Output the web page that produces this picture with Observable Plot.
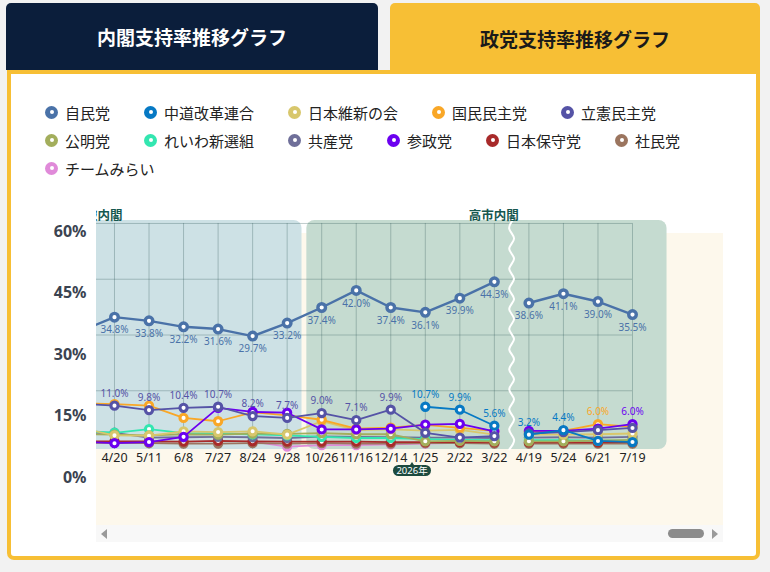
<!DOCTYPE html>
<html><head><meta charset="utf-8">
<script src="https://cdn.jsdelivr.net/npm/d3@7"></script>
<script src="https://cdn.jsdelivr.net/npm/@observablehq/plot@0.6"></script>
<style>
body{margin:0;width:770px;height:572px;background:#f2f2f2;position:relative;overflow:hidden;font-family:"Noto Sans CJK JP","Noto Sans",sans-serif;}
.tab{position:absolute;top:3px;display:flex;align-items:center;justify-content:center;font-weight:700;font-size:19px;border-radius:5px 5px 0 0;}
#tabL{left:6px;width:372px;height:67px;background:#0b1e3b;color:#fff;}
#tabR{left:390px;width:370px;height:70px;background:#f7bf35;color:#1a1a1a;}
#card{position:absolute;left:7px;top:70px;width:745px;height:482px;border:4px solid #f7bf35;background:#fff;border-radius:0 0 7px 7px;}
#legend{position:absolute;left:45px;top:98px;width:700px;display:flex;flex-wrap:wrap;column-gap:34px;}
.li{display:flex;align-items:center;height:28px;font-size:15px;color:#222;white-space:nowrap;}
.mk{width:13px;height:13px;border-radius:50%;margin-right:7px;position:relative;flex:none;}
.mk::after{content:"";position:absolute;left:4.5px;top:4.5px;width:4px;height:4px;border-radius:50%;background:#fff;}
#cream{position:absolute;left:96px;top:233px;width:627px;height:292px;background:#fdf8ec;}
#chart{position:absolute;left:96px;top:200px;width:627px;height:325px;overflow:hidden;}
#yaxis{position:absolute;left:0;top:200px;width:96px;height:300px;}
#scroll{position:absolute;left:96px;top:525px;width:627px;height:17px;background:#f8f8f8;}
#arrL{position:absolute;left:5px;top:4px;width:0;height:0;border-top:5px solid transparent;border-bottom:5px solid transparent;border-right:6px solid #9a9a9a;}
#arrR{position:absolute;left:616px;top:4px;width:0;height:0;border-top:5px solid transparent;border-bottom:5px solid transparent;border-left:6px solid #9a9a9a;}
#thumb{position:absolute;left:572px;top:4px;width:36px;height:9px;border-radius:5px;background:#8c8c8c;}
#year{position:absolute;top:465px;height:11px;width:38px;margin-left:-19px;border-radius:6px;background:#1c4a3e;color:#fff;font-size:9.5px;line-height:11px;text-align:center;font-family:"Noto Sans","Noto Sans CJK JP",sans-serif;}
#year::before{content:"";position:absolute;left:17px;top:-3px;border-left:2px solid transparent;border-right:2px solid transparent;border-bottom:3px solid #1c4a3e;}
svg text{font-family:"Noto Sans","Noto Sans CJK JP",sans-serif;}
</style></head>
<body>
<div class="tab" id="tabL">内閣支持率推移グラフ</div>
<div class="tab" id="tabR">政党支持率推移グラフ</div>
<div id="card"></div>
<div id="legend"></div>
<div id="cream"></div>
<div id="yaxis"></div>
<div id="chart"></div>
<div id="scroll"><div id="arrL"></div><div id="thumb"></div><div id="arrR"></div></div>
<div id="year"></div>
<script>
// ---- data ----
const dates = ["", "4/20","5/11","6/8","7/27","8/24","9/28","10/26","11/16","12/14","1/25","2/22","3/22","4/19","5/24","6/21","7/19"];
const parties = ["自民党","中道改革連合","日本維新の会","国民民主党","立憲民主党","公明党","れいわ新選組","共産党","参政党","日本保守党","社民党","チームみらい"];
const partyColors = ["#4a72a8","#0679c4","#d8c76c","#f9a727","#5553a6","#a3ae5c","#33e6b0","#6f6f99","#6b00f0","#a82a2a","#9b755f","#e08ad9"];
const ldp      = [31.0,34.8,33.8,32.2,31.6,29.7,33.2,37.4,42.0,37.4,36.1,39.9,44.3,38.6,41.1,39.0,35.5];
const chudo    = [null,null,null,null,null,null,null,null,null,null,10.7,9.9,5.6,3.2,4.4,1.5,1.2];
const ishin    = [5.0,3.0,2.9,4.1,3.9,4.1,3.2,6.8,4.4,4.6,4.3,4.5,3.2,3.2,3.2,3.3,3.5];
const kokumin  = [11.6,11.4,11.0,7.7,6.8,9.2,8.4,7.2,4.8,5.1,5.8,5.0,4.2,4.0,4.2,6.0,5.3];
const rikken   = [11.5,11.0,9.8,10.4,10.7,8.2,7.7,9.0,7.1,9.9,3.7,2.4,2.8,3.5,3.9,4.4,5.0];
const komei    = [3.3,3.2,3.0,3.3,3.2,3.5,3.4,3.6,3.3,3.3,1.4,1.5,1.4,1.4,1.4,1.6,1.8];
const reiwa    = [4.2,3.7,4.7,3.6,3.5,3.3,3.0,2.6,2.3,2.3,2.0,1.8,1.7,1.7,1.7,1.6,1.6];
const kyosan   = [3.6,3.7,2.4,2.5,2.6,2.5,2.3,2.7,2.6,2.5,2.4,2.4,2.3,2.4,2.5,2.4,2.6];
const sansei   = [1.3,0.9,1.2,2.6,10.4,9.3,9.1,4.6,4.6,4.8,5.9,6.1,4.1,4.2,4.2,4.8,6.0];
const hoshu    = [1.4,1.4,1.4,1.3,1.5,1.4,1.3,1.3,1.3,1.2,1.2,1.2,1.1,1.1,1.1,1.1,1.2];
const shamin   = [1.0,1.0,0.9,0.8,0.8,0.9,0.8,0.9,0.8,0.8,0.9,0.9,0.8,0.8,0.8,0.8,0.8];
const mirai    = [null,null,null,null,null,1.3,0.0,0.4,0.4,0.6,0.8,1.0,1.1,1.0,1.0,1.1,1.2];
const labelParty = ["立憲民主党","立憲民主党","立憲民主党","立憲民主党","立憲民主党","立憲民主党","立憲民主党","立憲民主党","立憲民主党",
                    "中道改革連合","中道改革連合","中道改革連合","中道改革連合","中道改革連合","国民民主党","参政党"];
const yTicks = [0,15,30,45,60];
const yGrid = [15,30,45,60];
const cabinets = [
  {name:"石破内閣", from:-2, to:5.43, labelAt:-0.49},
  {name:"高市内閣", from:5.57, to:16, labelAt:10.98}
];
const breakAfter = 11;           // chart break between 3/22 and 4/19
const yearMarker = {label:"2026年", at:8.63};

const series = {"自民党":ldp,"中道改革連合":chudo,"日本維新の会":ishin,"国民民主党":kokumin,"立憲民主党":rikken,
  "公明党":komei,"れいわ新選組":reiwa,"共産党":kyosan,"参政党":sansei,"日本保守党":hoshu,"社民党":shamin,"チームみらい":mirai};
const drawOrder = ["チームみらい","社民党","日本保守党","共産党","れいわ新選組","公明党","日本維新の会","国民民主党","参政党","立憲民主党","中道改革連合","自民党"];

// ---- legend ----
const lg = document.getElementById("legend");
parties.forEach((p,k)=>{
  const it = document.createElement("div"); it.className="li";
  it.innerHTML = `<span class="mk" style="background:${partyColors[k]}"></span>${p}`;
  lg.appendChild(it);
});

// ---- long table ----
const long = [];
for (const p of parties) series[p].forEach((v,j)=>{ if (v!=null) long.push({party:p, i:j-1, v, seg: (j-1)<=breakAfter?0:1}); });
const labelRows = [];
for (let j=1;j<dates.length;j++){
  labelRows.push({party:"自民党", i:j-1, v:ldp[j], below:true});
  const p = labelParty[j-1];
  labelRows.push({party:p, i:j-1, v:series[p][j], below:false});
}
const idx = d3.range(-1, dates.length-1);
const yDomain = [-0.8, 60.8];
const waveStep = 2.7;
const wave = d3.range(0, Math.round((yDomain[1]-yDomain[0])/waveStep)+1).map(k=>({k, y: yDomain[0]+k*waveStep}));
const color = {domain: parties, range: partyColors};

const seriesMarks = drawOrder.flatMap(p=>{
  const d = long.filter(r=>r.party===p);
  const big = p==="自民党";
  return [
    Plot.line(d, {x:"i", y:"v", z:"seg", stroke:"party", strokeWidth: big?2.4:1.8}),
    Plot.dot(d, {x:"i", y:"v", stroke:"party", fill:"white", r: big?3.8:3.6, strokeWidth: big?3.4:3.1})
  ];
});

const chart = Plot.plot({
  width:627, height:325, marginTop:20, marginBottom:76, marginLeft:0, marginRight:0,
  style:{background:"transparent", fontFamily:'"Noto Sans","Noto Sans CJK JP",sans-serif', color:"#222"},
  x:{type:"linear", domain:[-0.521, 17.635], axis:null},
  y:{domain:yDomain, axis:null},
  color,
  marks:[
    Plot.rect(cabinets, {x1:"from", x2:"to", y1:yDomain[0], y2:yDomain[1], fill:(d,k)=>k===0?"#cde1e5":"#c5dbd0", rx:8}),
    Plot.ruleY(yGrid, {x1:idx[0], x2:idx[idx.length-1], stroke:"#2f5555", strokeOpacity:0.3}),
    Plot.ruleX(idx, {y1:yDomain[0], y2:yGrid[yGrid.length-1], stroke:"#2f5555", strokeOpacity:0.3}),
    Plot.line(wave, {x:d=>breakAfter+0.5+(d.k%2?0.07:-0.07), y:"y", stroke:"white", strokeWidth:2, curve:"natural"}),
    ...seriesMarks,
    Plot.text(labelRows.filter(r=>r.below), {x:"i", y:"v", text:r=>r.v.toFixed(1)+"%", fill:"party", dy:13, fontSize:10}),
    Plot.text(labelRows.filter(r=>!r.below), {x:"i", y:"v", text:r=>r.v.toFixed(1)+"%", fill:"party", dy:-12, fontSize:10}),
    Plot.text(cabinets, {x:"labelAt", text:"name", frameAnchor:"top", dy:-9, fontSize:12.5, fontWeight:700, fill:"#16574f"}),
    Plot.axisX(idx, {tickFormat:i=>dates[i+1], tickSize:0, tickPadding:4, fontSize:12.5, label:null})
  ]
});
document.getElementById("chart").appendChild(chart);

// year badge positioned through the x scale
const yb = document.getElementById("year");
yb.textContent = yearMarker.label;
yb.style.left = (96 + chart.scale("x").apply(yearMarker.at)) + "px";

// y axis labels
const yax = Plot.plot({
  width:96, height:300, marginTop:31, marginBottom:23, marginLeft:0, marginRight:10,
  style:{background:"transparent", fontFamily:'"Noto Sans",sans-serif'},
  y:{domain:[0,60], axis:null},
  marks:[Plot.text(yTicks, {y:d=>d, text:d=>d+"%", frameAnchor:"right", textAnchor:"end", fontSize:16, fontWeight:700, fill:"#3b4350"})]
});
document.getElementById("yaxis").appendChild(yax);
</script>
</body></html>
